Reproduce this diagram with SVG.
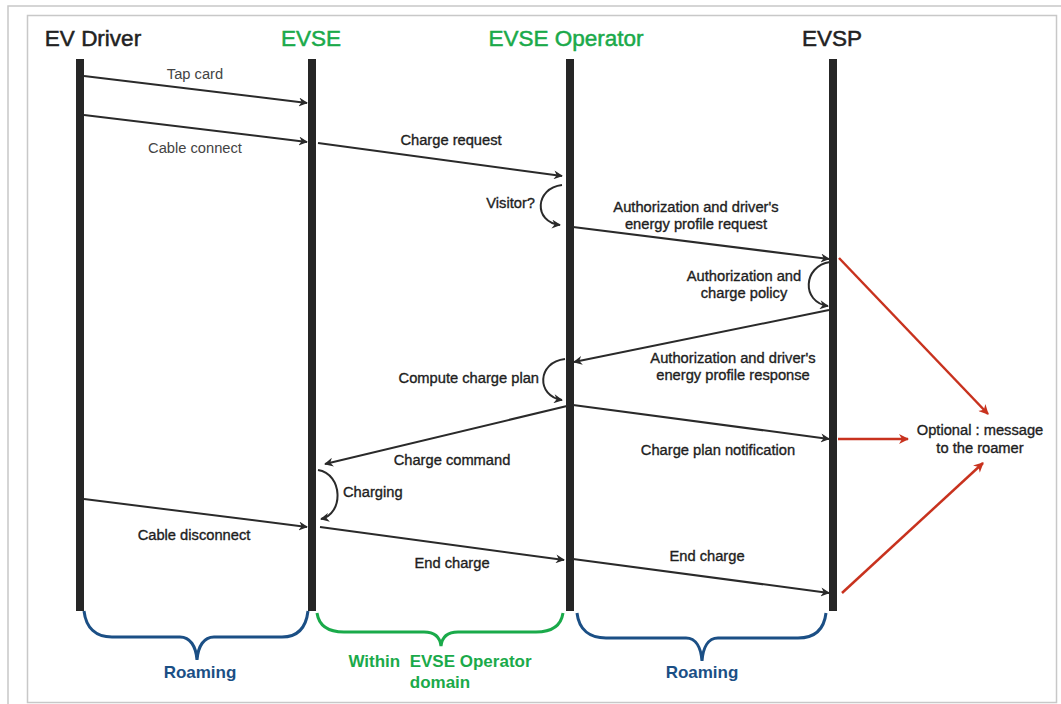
<svg xmlns="http://www.w3.org/2000/svg" width="1061" height="704" viewBox="0 0 1061 704">
<style>
.hdr{font-family:"Liberation Sans",Arial,sans-serif;font-size:22.5px;stroke-width:0.5}
.lbl{font-family:"Liberation Sans",Arial,sans-serif;font-size:14.7px;fill:#1e1e1e;stroke:#1e1e1e;stroke-width:0.35}
.lt{fill:#444;stroke:none}
.brl{font-family:"Liberation Sans",Arial,sans-serif;font-size:17px;font-weight:bold}
.life{stroke:#262626;stroke-width:8}
.msg{stroke:#2a2a2a;stroke-width:2;fill:none;marker-end:url(#ah)}
.red{stroke:#c8321e;stroke-width:2.5;fill:none;marker-end:url(#ahr)}
.brace{fill:none;stroke-width:3}
</style>
<defs>
<marker id="ah" viewBox="0 0 10 10" refX="9" refY="5" markerWidth="10" markerHeight="9" markerUnits="userSpaceOnUse" orient="auto">
<path d="M0,0 L10,5 L0,10 L3,5 Z" fill="#2a2a2a"/>
</marker>
<marker id="ahr" viewBox="0 0 10 10" refX="9" refY="5" markerWidth="12" markerHeight="10" markerUnits="userSpaceOnUse" orient="auto">
<path d="M0,0 L10,5 L0,10 L3,5 Z" fill="#c8321e"/>
</marker>
</defs>
<rect width="1061" height="704" fill="#fff"/>
<g id="frame" fill="none" stroke="#c8c8c8" stroke-width="1.5">
<path d="M8,704 L8,6 L1061,6"/>
<rect x="27.5" y="15.5" width="1029" height="687"/>
</g>
<g id="ev-driver">
<text class="hdr" x="93" y="46" text-anchor="middle" fill="#222" stroke="#222">EV Driver</text>
<line class="life" x1="80" y1="59" x2="80" y2="611"/>
</g>
<g id="evse">
<text class="hdr" x="311" y="46" text-anchor="middle" fill="#1aaa4a" stroke="#1aaa4a">EVSE</text>
<line class="life" x1="312" y1="59" x2="312" y2="611"/>
</g>
<g id="evse-operator">
<text class="hdr" x="566" y="46" text-anchor="middle" fill="#1aaa4a" stroke="#1aaa4a">EVSE Operator</text>
<line class="life" x1="570" y1="59" x2="570" y2="611"/>
</g>
<g id="evsp">
<text class="hdr" x="832" y="46" text-anchor="middle" fill="#222" stroke="#222">EVSP</text>
<line class="life" x1="833" y1="59" x2="833" y2="611"/>
</g>
<g id="roamer-note">
<text class="lbl" x="980" y="435" text-anchor="middle">Optional : message</text>
<text class="lbl" x="980" y="453" text-anchor="middle">to the roamer</text>
</g>
<g id="connectors">
<path class="msg" d="M84,76 L307,103"/>
<path class="msg" d="M84,115 L307,142"/>
<path class="msg" d="M318,143 L562,176"/>
<path class="msg" d="M562,185 C535,188 533,222 560,225"/>
<path class="msg" d="M573,227 L829,259"/>
<path class="msg" d="M830,262 C803,266 801,302 828,306"/>
<path class="msg" d="M829,310 L574,362"/>
<path class="msg" d="M565,359 C537,362 536,396 562,400"/>
<path class="msg" d="M573,405 L829,439"/>
<path class="msg" d="M567,406 L325,464"/>
<path class="msg" d="M318,470 C343,474 344,514 321,519"/>
<path class="msg" d="M84,499 L307,527"/>
<path class="msg" d="M320,527 L564,560"/>
<path class="msg" d="M573,559 L829,593"/>
<path class="red" d="M839,258 L988,414"/>
<path class="red" d="M838,439 L908,439"/>
<path class="red" d="M842,593 L983,463"/>
</g>
<g id="labels">
<text class="lbl lt" x="195" y="79" text-anchor="middle">Tap card</text>
<text class="lbl lt" x="195" y="153" text-anchor="middle">Cable connect</text>
<text class="lbl" x="451" y="145" text-anchor="middle">Charge request</text>
<text class="lbl" x="535" y="208" text-anchor="end">Visitor?</text>
<text class="lbl" x="696" y="212" text-anchor="middle">Authorization and driver's</text>
<text class="lbl" x="696" y="229" text-anchor="middle">energy profile request</text>
<text class="lbl" x="744" y="281" text-anchor="middle">Authorization and</text>
<text class="lbl" x="744" y="298" text-anchor="middle">charge policy</text>
<text class="lbl" x="733" y="363" text-anchor="middle">Authorization and driver's</text>
<text class="lbl" x="733" y="380" text-anchor="middle">energy profile response</text>
<text class="lbl" x="539" y="383" text-anchor="end">Compute charge plan</text>
<text class="lbl" x="718" y="455" text-anchor="middle">Charge plan notification</text>
<text class="lbl" x="452" y="465" text-anchor="middle">Charge command</text>
<text class="lbl" x="343" y="497">Charging</text>
<text class="lbl" x="194" y="540" text-anchor="middle">Cable disconnect</text>
<text class="lbl" x="452" y="568" text-anchor="middle">End charge</text>
<text class="lbl" x="707" y="561" text-anchor="middle">End charge</text>
</g>
<g id="brace-roaming-left">
<path class="brace" stroke="#1b4f85" d="M84,611 C86,628 96,637 112,637 L180,637 C190,637 196,646 197,660 C198,646 204,637 214,637 L282,637 C298,637 306,628 308,611"/>
<text class="brl" x="200" y="678" text-anchor="middle" fill="#1b4f85">Roaming</text>
</g>
<g id="brace-operator">
<path class="brace" stroke="#1aaa4a" d="M317,613 C319,626 328,632 344,632 L424,632 C434,632 440,637 441,646 C442,637 448,632 458,632 L536,632 C552,632 561,626 563,613"/>
<text class="brl" x="440" y="667" text-anchor="middle" fill="#1aaa4a" xml:space="preserve">Within  EVSE Operator</text>
<text class="brl" x="440" y="688" text-anchor="middle" fill="#1aaa4a">domain</text>
</g>
<g id="brace-roaming-right">
<path class="brace" stroke="#1b4f85" d="M577,613 C579,630 590,638 606,638 L686,638 C696,638 701,648 702,661 C703,648 708,638 718,638 L798,638 C814,638 824,630 826,613"/>
<text class="brl" x="702" y="678" text-anchor="middle" fill="#1b4f85">Roaming</text>
</g>
</svg>
